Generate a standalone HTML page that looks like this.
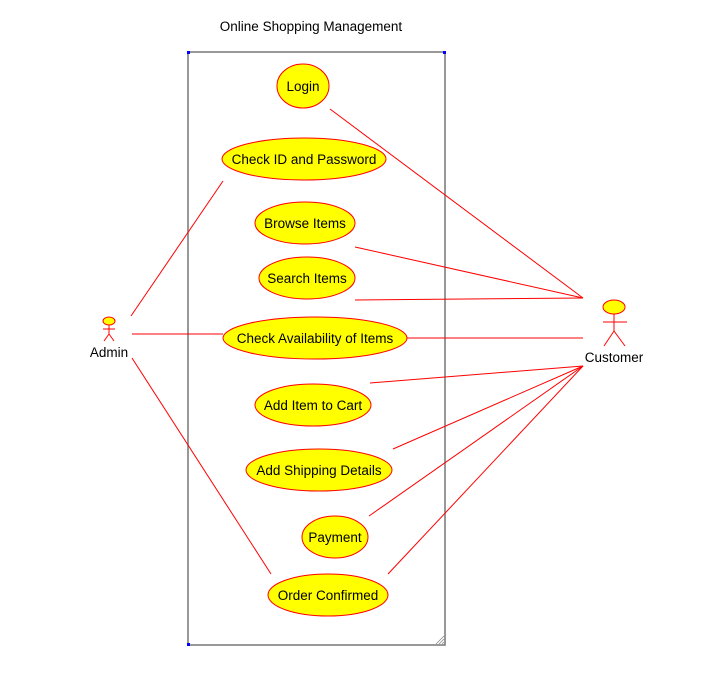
<!DOCTYPE html>
<html><head><meta charset="utf-8"><style>
html,body{margin:0;padding:0;background:#fff;}
svg{display:block;}
text{font-family:"Liberation Sans",Arial,sans-serif;font-size:13.5px;fill:#000;}
</style></head><body>
<svg width="714" height="690" viewBox="0 0 714 690" xmlns="http://www.w3.org/2000/svg">
<text x="311" y="31" text-anchor="middle">Online Shopping Management</text>
<rect x="188" y="52" width="257" height="593" fill="none" stroke="#777" stroke-width="1.5"/>
<rect x="187" y="51" width="3" height="3" fill="#00f"/>
<rect x="443" y="51" width="3" height="3" fill="#00f"/>
<rect x="187" y="643" width="3" height="3" fill="#00f"/>
<g stroke="#888" stroke-width="0.8"><line x1="436" y1="644" x2="444" y2="636"/><line x1="439" y1="644" x2="444" y2="639"/><line x1="442" y1="644" x2="444" y2="642"/></g>
<g stroke="#f00" stroke-width="1" fill="none">
<line x1="330" y1="109" x2="583" y2="298"/>
<line x1="355" y1="247" x2="583" y2="298"/>
<line x1="355" y1="300" x2="583" y2="298"/>
<line x1="407" y1="338" x2="583" y2="338"/>
<line x1="370" y1="383" x2="583" y2="366"/>
<line x1="393" y1="449" x2="583" y2="366"/>
<line x1="369" y1="516" x2="583" y2="366"/>
<line x1="388" y1="574" x2="583" y2="366"/>
<line x1="131" y1="316" x2="223" y2="181"/>
<line x1="132" y1="334" x2="223" y2="334"/>
<line x1="132" y1="358" x2="271" y2="574"/>
</g>
<g fill="#ff0" stroke="#f00" stroke-width="1">
<ellipse cx="303" cy="86" rx="26" ry="22"/>
<ellipse cx="304" cy="159" rx="82" ry="21"/>
<ellipse cx="305" cy="223" rx="50" ry="21"/>
<ellipse cx="307" cy="278" rx="48" ry="21"/>
<ellipse cx="315" cy="338" rx="92" ry="21"/>
<ellipse cx="313" cy="405" rx="58" ry="21"/>
<ellipse cx="319" cy="470" rx="73" ry="21"/>
<ellipse cx="335" cy="537" rx="33" ry="21"/>
<ellipse cx="328" cy="595" rx="60" ry="21"/>
</g>
<g text-anchor="middle">
<text x="303" y="91">Login</text>
<text x="304" y="164">Check ID and Password</text>
<text x="305" y="228">Browse Items</text>
<text x="307" y="283">Search Items</text>
<text x="315" y="343">Check Availability of Items</text>
<text x="313" y="410">Add Item to Cart</text>
<text x="319" y="475">Add Shipping Details</text>
<text x="335" y="542">Payment</text>
<text x="328" y="600">Order Confirmed</text>
</g>
<ellipse cx="109" cy="321" rx="6" ry="4" fill="#ff0" stroke="#f00"/>
<g stroke="#f00" stroke-width="1" fill="none">
<line x1="109" y1="325" x2="109" y2="334"/>
<line x1="103" y1="329" x2="115" y2="329"/>
<line x1="109" y1="334" x2="104" y2="341"/>
<line x1="109" y1="334" x2="114" y2="341"/>
</g>
<text x="109" y="357" text-anchor="middle">Admin</text>
<ellipse cx="614" cy="307" rx="11" ry="7" fill="#ff0" stroke="#f00"/>
<g stroke="#f00" stroke-width="1" fill="none">
<line x1="614" y1="314" x2="614" y2="331"/>
<line x1="603" y1="322" x2="627" y2="322"/>
<line x1="614" y1="331" x2="604" y2="346"/>
<line x1="614" y1="331" x2="625" y2="346"/>
</g>
<text x="614" y="362" text-anchor="middle">Customer</text>
</svg>
</body></html>
